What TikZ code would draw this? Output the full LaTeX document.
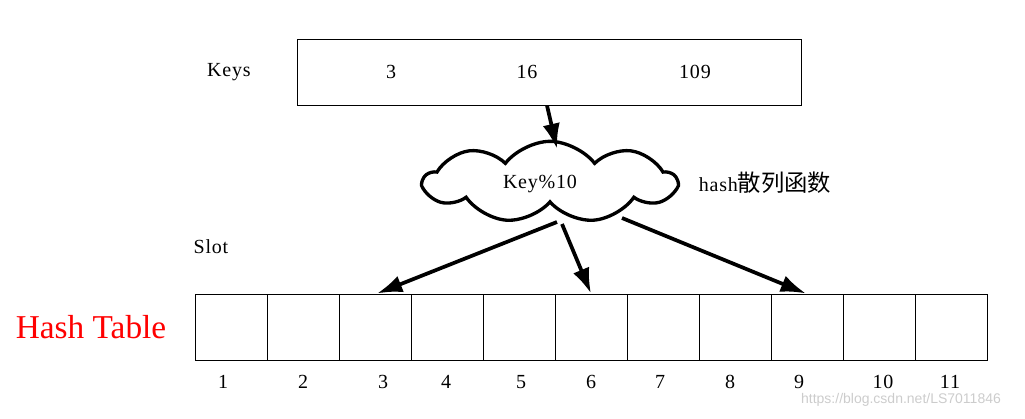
\documentclass[tikz,border=0pt]{standalone}
\usepackage{fontspec}
\setmainfont{Liberation Serif}[LetterSpace=4]
\newfontfamily\bigfont{Liberation Serif}
\newfontfamily\markfont{Liberation Sans}
\newfontfamily\cjk{Noto Sans CJK SC}
\usetikzlibrary{shapes.symbols, arrows.meta}

\begin{document}
\begin{tikzpicture}[
		x=0.75pt, y=-0.75pt,
		every node/.style={font=\fontsize{15}{18}\selectfont},
		key box/.style={draw, line width=0.75pt, minimum width=378pt, minimum height=49.5pt},
		slot box/.style={draw, line width=0.75pt, minimum width=54pt, minimum height=49.5pt, inner sep=0pt},
		hash cloud/.style={cloud, draw, line width=2.5pt, cloud puffs=9, cloud puff arc=105,
			cloud ignores aspect, minimum width=189pt, minimum height=61pt},
		map arrow/.style={-{Latex[length=19pt, width=13pt]}, line width=2.8pt},
		table title/.style={text=red, font=\bigfont\fontsize{25}{28}\selectfont}
		]

	\useasboundingbox (0, 0) rectangle (1025, 418);

	% Keys
	\node (keys label) at (229, 72) {Keys};
	\node[key box] (keys) at (549, 72) {};
	\node (k3) at (391, 72) {3};
	\node (k16) at (527, 72) {16};
	\node (k109) at (695, 72) {109};

	% Hash function
	\node[hash cloud] (hash) at (550, 182) {};
	\node (hash text) at (540, 184) {Key\%10};
	\node (hash label) at (765, 183) {hash{\cjk\fontsize{17.5}{20}\selectfont 散列函数}};
	\coordinate (hash in) at (557, 149);
	\coordinate (out3) at (557, 222);
	\coordinate (out6) at (562, 224);
	\coordinate (out9) at (622, 218);

	% Hash table
	\node (slot label) at (211, 247) {Slot};
	\node[table title] (title) at (91, 327) {Hash Table};
	\foreach \i in {1,...,11}{
		\node[slot box] (s\i) at (159+72*\i, 327) {};
	}

	% Slot numbers
	\foreach \i/\x in {1/223, 2/303, 3/383, 4/446, 5/521, 6/591, 7/660, 8/730, 9/799, 10/883, 11/950}{
		\node (n\i) at (\x, 382) {\i};
	}

	% Arrows
	\draw[map arrow] ([xshift=-1.5pt]keys.south) -- (hash in);
	\draw[map arrow] (out3) -- ([xshift=1.5pt]s3.north);
	\draw[map arrow] (out6) -- (s6.north);
	\draw[map arrow] (out9) -- ([xshift=-0.75pt]s9.north);

	% Watermark
	\node[text=black!20, font=\markfont\fontsize{10.5}{12}\selectfont] (mark) at (901, 400) {https://blog.csdn.net/LS7011846};

\end{tikzpicture}
\end{document}
